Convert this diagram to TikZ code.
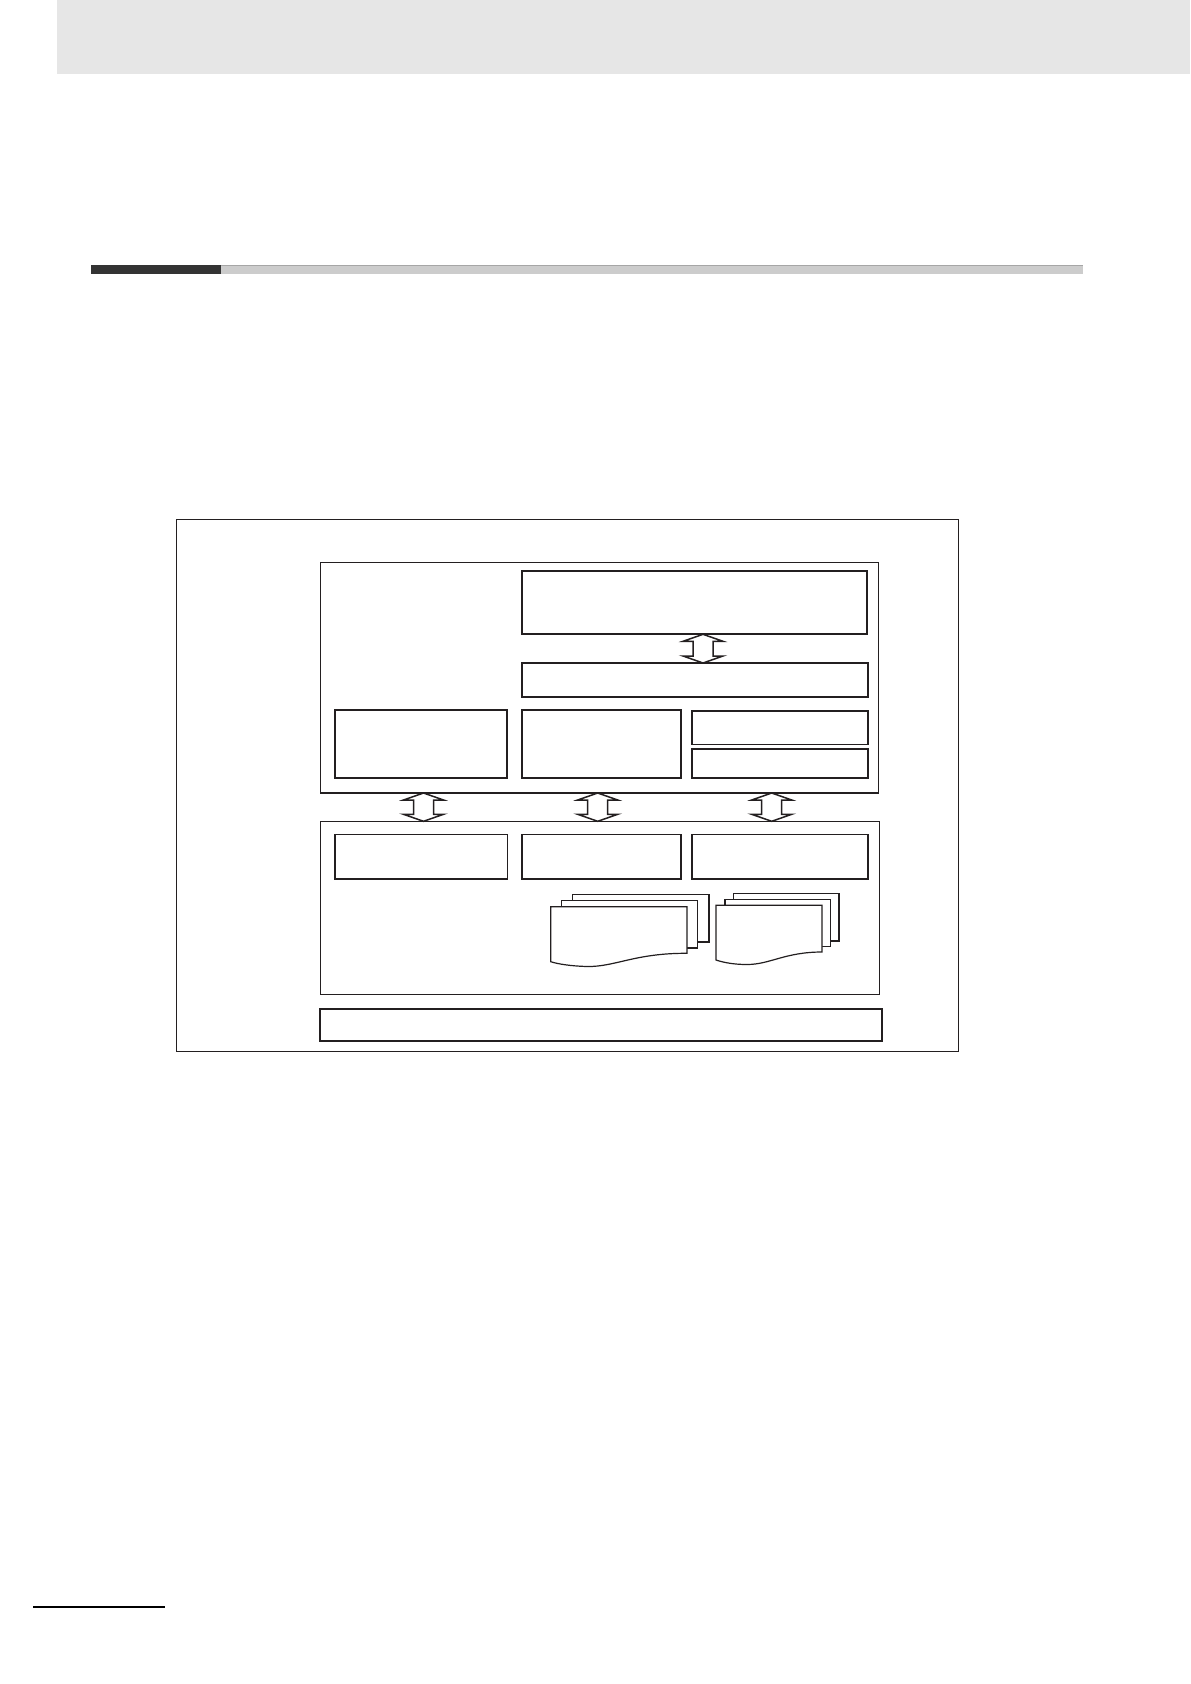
\documentclass[tikz,border=0pt]{standalone}
\usetikzlibrary{fit,calc}
\definecolor{ink}{HTML}{231F20}
\definecolor{hdr}{HTML}{E6E6E6}
\definecolor{bardark}{HTML}{333333}
\definecolor{barlight}{HTML}{CCCCCC}
\begin{document}
\begin{tikzpicture}[x=0.5pt,y=-0.5pt,
  frame/.style={draw=ink, line width=0.95pt, inner sep=0pt, outer sep=0pt, rectangle},
  container/.style={draw=ink, line width=0.65pt, inner sep=0pt, outer sep=0pt, rectangle},
  box/.style={draw=ink, line width=0.9pt, inner sep=0pt, outer sep=0pt, rectangle},
  basebar/.style={draw=ink, line width=1pt, inner sep=0pt, outer sep=0pt, rectangle},
  sheet/.style={draw=ink, fill=white, line width=0.6pt, line join=miter},
  dblarr/.style={draw=ink, fill=white, line width=0.75pt, line join=miter}]
\useasboundingbox (0,0) rectangle (1190,1684);
% header band
\fill[hdr] (57,0) rectangle (1190,73.7);
% title rule
\fill[barlight] (221,265) rectangle (1083,274);
\draw[gray!70, line width=0.4pt] (221,265.3) -- (1083,265.3);
\fill[bardark] (91,265) rectangle (221,274);
% footer rule
\draw[black, line width=1.1pt] (33,1607) -- (165,1607);

% outer frame
\node[frame, fit={(176.5,519.5) (958.5,1051.5)}] (outer) {};
% upper container
\node[container, fit={(320.5,562.5) (878.5,793)}] (upper) {};
\node[box, fit={(521.7,571) (866.7,634.3)}] (A) {};
\node[box, fit={(521.7,663) (867.7,696.7)}] (B) {};
\node[box, fit={(334.7,710) (507.3,778.3)}] (C) {};
\node[box, fit={(521.7,710) (680.7,778.3)}] (D) {};
\node[box, fit={(692.3,711) (867.7,744.5)}] (E) {};
\node[box, fit={(692.3,748.7) (867.7,778.3)}] (F) {};
% lower container
\node[container, fit={(320.7,821.3) (879.2,994.3)}] (lower) {};
\node[box, fit={(334.7,834.5) (507.5,879)}] (G) {};
\node[box, fit={(521.7,834.5) (680.7,879)}] (H) {};
\node[box, fit={(692.3,834.5) (867.7,879)}] (I) {};
% base bar
\node[basebar, fit={(320.3,1009) (882.3,1041.3)}] (base) {};

% document stacks (left)
\draw[sheet] (572.7,894.3) rectangle (709,942);
\draw[sheet] (561.7,900.3) rectangle (697.3,948);
\draw[sheet] (550.7,906.7) -- (687,906.7) -- (687,953.3)
  .. controls (635,953) and (615,967) .. (587,966.5)
  .. controls (570,966) and (558,964) .. (550.7,961.7) -- cycle;
% document stacks (right)
\draw[sheet] (733.3,893.3) rectangle (839,941);
\draw[sheet] (725,899.3) rectangle (830.7,946.7);
\draw[sheet] (716,905.3) -- (822,905.3) -- (822,952)
  .. controls (785,952) and (770,964.5) .. (747,964.5)
  .. controls (732,964.5) and (722,962) .. (716,960) -- cycle;

% double arrows
\coordinate (xab) at (703,0);
\coordinate (x1) at (423.5,0);
\coordinate (x2) at (597.7,0);
\coordinate (x3) at (771.7,0);
\newcommand{\dblarrow}[2]{%
  \draw[dblarr] let \p1=(#1), \p2=(#2), \n1={\y1-\y2-7pt} in
    (\p1) -- ++(20,7) -- ++(-10,0) -- ++(0pt,-\n1) -- ++(10,0) -- (\p2)
    -- ++(-20,-7) -- ++(10,0) -- ++(0pt,\n1) -- ++(-10,0) -- cycle;}
\dblarrow{A.south -| xab}{B.north -| xab}
\dblarrow{upper.south -| x1}{lower.north -| x1}
\dblarrow{upper.south -| x2}{lower.north -| x2}
\dblarrow{upper.south -| x3}{lower.north -| x3}
\end{tikzpicture}
\end{document}
